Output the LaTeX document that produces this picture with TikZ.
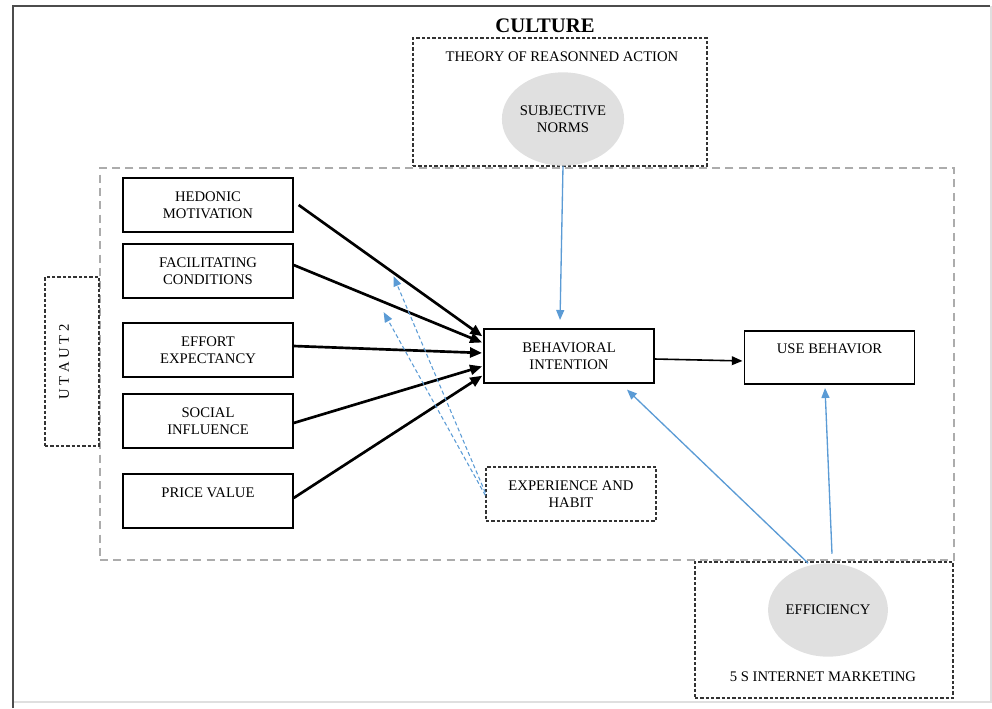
\documentclass[tikz,border=0pt]{standalone}
\usepackage{fontspec}
\setmainfont{Liberation Serif}
\usetikzlibrary{shapes.geometric,arrows.meta}
\definecolor{linkblue}{RGB}{91,155,213}
\definecolor{blobgray}{RGB}{224,224,224}

\begin{document}
\begin{tikzpicture}[x=0.75pt,y=-0.75pt,->,>={Triangle[length=7.5pt,width=6pt]},shorten >=1pt,
    font=\fontsize{11}{12.75}\selectfont,
    box node/.style={rectangle,draw,line width=1pt,minimum width=127.5pt,minimum height=40.5pt,inner sep=0pt,align=center},
    dash box/.style={rectangle,draw=black!80,line width=1pt,dash pattern=on 2.5pt off 1.5pt,inner sep=0pt,align=center},
    frame box/.style={rectangle,draw=gray!65,line width=1pt,dash pattern=on 6pt off 4pt,inner sep=0pt},
    blob node/.style={ellipse,fill=blobgray,minimum width=78pt,minimum height=70pt,inner sep=0pt,align=center},
    main edge/.style={line width=2pt,-{Triangle[length=9pt,width=7.5pt]}},
    blue edge/.style={draw=linkblue,line width=1pt},
    hint edge/.style={draw=linkblue,line width=0.8pt,dash pattern=on 3pt off 2pt}]
                \useasboundingbox (0,0) rectangle (992,708);

                % page frame
                \draw[-,gray!60!black,line width=1.2pt] (13,708) -- (13,6) -- (991,6);
                \draw[-,gray!25,line width=0.8pt] (991,6) -- (991,702) -- (13,702);

                % containers
                \node[frame box,minimum width=640.5pt,minimum height=294pt] (14) at (527,364) {};
                \node[dash box,minimum width=220.5pt,minimum height=96pt] (11) at (560,102) {};
                \node[dash box,minimum width=193.5pt,minimum height=102pt] (12) at (824,630) {};
                \node[dash box,minimum width=40.5pt,minimum height=126.75pt] (13) at (72,361.5) {};

                \node (15) at (545,26) {\fontsize{15.5}{18}\selectfont\bfseries CULTURE};
                \node (16) at (562,57) {THEORY OF REASONNED ACTION};
                \node (17) at (823,677) {5 S INTERNET MARKETING};
                \node[rotate=90] (18) at (64,362) {U T A U T 2};

                \node[blob node] (9) at (563,119) {SUBJECTIVE\\NORMS};
                \node[blob node] (10) at (828,610) {EFFICIENCY};

                \node[box node] (1) at (208,205) {HEDONIC\\MOTIVATION};
                \node[box node] (2) at (208,271) {FACILITATING\\CONDITIONS};
                \node[box node] (3) at (208,350) {EFFORT\\EXPECTANCY};
                \node[box node] (4) at (208,421) {SOCIAL\\INFLUENCE};
                \node[box node] (5) at (208,501) {PRICE VALUE\\\mbox{}};

                \node[box node] (6) at (569,356) {BEHAVIORAL\\INTENTION};
                \node[box node,minimum height=39.75pt] (7) at (829.5,357.5) {USE BEHAVIOR\\\mbox{}};
                \node[dash box,minimum width=127.5pt,minimum height=40.5pt] (8) at (571,494) {EXPERIENCE AND\\HABIT};

                \coordinate (19) at (393,275);
                \coordinate (20) at (383,311);

                \path[every edge/.append style={main edge}]
                    ([xshift=3.75pt]1.east) edge ([yshift=14.25pt]6.west)
                    ([yshift=4.5pt]2.east) edge ([yshift=9.75pt]6.west)
                    ([yshift=3pt]3.east) edge ([yshift=2.25pt]6.west)
                    ([yshift=-1.5pt]4.east) edge ([yshift=-7.5pt]6.west)
                    ([yshift=2.25pt]5.east) edge ([yshift=-14.25pt]6.west)
                ;
                \draw[line width=1.2pt,-{Triangle[length=8pt,width=6.5pt]}] ([yshift=-2.25pt]6.east) -- ([yshift=-2.6pt]7.west);

                \draw[blue edge] (9.south) -- ([xshift=-6.75pt,yshift=5.25pt]6.north);
                \draw[blue edge] ([xshift=-15pt]10.north) -- ([xshift=42.75pt,yshift=-3.75pt]6.south);
                \draw[blue edge] ([xshift=3pt,yshift=7pt]10.north) -- ([xshift=-3.4pt,yshift=-1.5pt]7.south);
                \draw[hint edge] ([yshift=1pt]8.west) -- (19);
                \draw[hint edge] ([yshift=-1pt]8.west) -- (20);
            \end{tikzpicture}
\end{document}
